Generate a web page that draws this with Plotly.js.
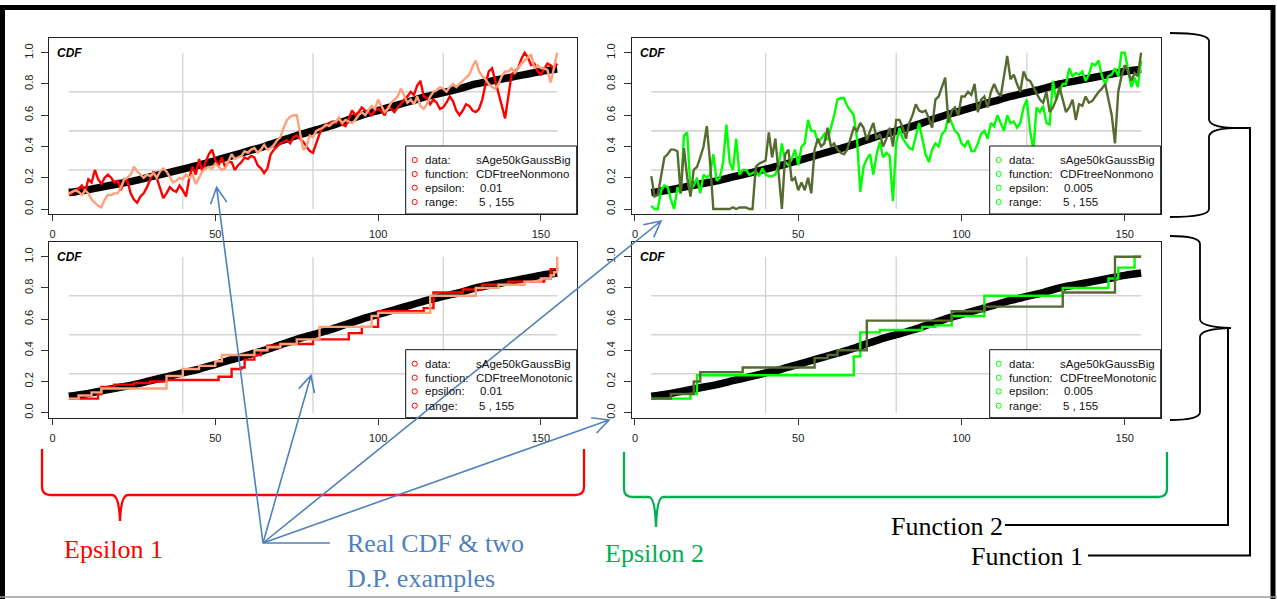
<!DOCTYPE html>
<html><head><meta charset="utf-8">
<script src="https://cdn.plot.ly/plotly-3.0.1.min.js"></script>
<style>html,body{margin:0;padding:0;background:#fff;overflow:hidden}#chart{width:1277px;height:599px}</style>
</head><body><div id="chart"></div>
<script>
// ---------------- DATA ----------------
const ages = [5,6,7,8,9,10,11,12,13,14,15,16,17,18,19,20,21,22,23,24,25,26,27,28,29,30,31,32,33,34,35,36,37,38,39,40,41,42,43,44,45,46,47,48,49,50,51,52,53,54,55,56,57,58,59,60,61,62,63,64,65,66,67,68,69,70,71,72,73,74,75,76,77,78,79,80,81,82,83,84,85,86,87,88,89,90,91,92,93,94,95,96,97,98,99,100,101,102,103,104,105,106,107,108,109,110,111,112,113,114,115,116,117,118,119,120,121,122,123,124,125,126,127,128,129,130,131,132,133,134,135,136,137,138,139,140,141,142,143,144,145,146,147,148,149,150,151,152,153,154,155];

const trueCdfX = [5,10,15,20,25,30,35,40,45,50,55,60,65,70,75,80,85,90,95,100,105,110,115,120,125,130,135,140,145,150,155];
const trueCdfY = [0.105,0.12,0.14,0.16,0.18,0.205,0.23,0.255,0.28,0.31,0.34,0.37,0.40,0.435,0.47,0.50,0.53,0.565,0.60,0.63,0.66,0.69,0.72,0.745,0.77,0.80,0.82,0.84,0.86,0.88,0.895];

// Panel 1: epsilon 0.01, CDFtreeNonmono
const p1Red = [0.09,0.10,0.12,0.13,0.15,0.11,0.19,0.17,0.25,0.19,
0.16,0.20,0.22,0.20,0.17,0.18,0.12,0.19,0.18,0.10,
0.06,0.04,0.08,0.10,0.14,0.19,0.24,0.20,0.13,0.07,
0.10,0.14,0.12,0.11,0.15,0.12,0.08,0.20,0.27,0.22,
0.32,0.24,0.30,0.35,0.38,0.31,0.28,0.33,0.27,0.30,
0.30,0.25,0.28,0.30,0.33,0.32,0.34,0.33,0.28,0.26,
0.23,0.26,0.35,0.38,0.40,0.42,0.43,0.44,0.42,0.46,
0.47,0.45,0.43,0.40,0.37,0.36,0.42,0.48,0.52,0.53,
0.55,0.56,0.55,0.58,0.54,0.53,0.58,0.63,0.60,0.62,
0.65,0.63,0.62,0.60,0.63,0.64,0.63,0.60,0.65,0.64,
0.62,0.65,0.67,0.70,0.72,0.75,0.73,0.79,0.82,0.72,
0.71,0.67,0.70,0.68,0.64,0.65,0.68,0.72,0.69,0.63,
0.60,0.63,0.67,0.66,0.63,0.62,0.64,0.70,0.80,0.88,
0.90,0.82,0.74,0.66,0.58,0.72,0.86,0.88,0.90,0.96,
1.00,0.97,0.92,0.93,0.88,0.86,0.90,0.93,0.92,0.90,0.93];
const p1Salmon = [0.10,0.11,0.12,0.11,0.09,0.12,0.10,0.06,0.04,0.02,
0.01,0.06,0.09,0.09,0.10,0.10,0.14,0.19,0.20,0.22,
0.27,0.24,0.22,0.20,0.22,0.21,0.23,0.20,0.24,0.26,
0.24,0.20,0.17,0.18,0.20,0.19,0.22,0.20,0.22,0.16,
0.20,0.24,0.26,0.27,0.26,0.29,0.27,0.25,0.26,0.30,
0.35,0.32,0.33,0.34,0.37,0.36,0.38,0.39,0.36,0.38,
0.41,0.38,0.39,0.41,0.44,0.46,0.52,0.57,0.59,0.60,
0.60,0.50,0.38,0.40,0.47,0.46,0.50,0.51,0.52,0.54,
0.53,0.55,0.56,0.58,0.55,0.57,0.56,0.55,0.57,0.60,
0.62,0.60,0.63,0.66,0.64,0.70,0.66,0.62,0.64,0.68,
0.70,0.72,0.77,0.72,0.68,0.70,0.67,0.72,0.66,0.64,
0.67,0.72,0.75,0.76,0.78,0.77,0.75,0.78,0.80,0.78,
0.80,0.82,0.84,0.86,0.91,0.95,0.88,0.85,0.83,0.80,
0.78,0.77,0.80,0.85,0.88,0.88,0.90,0.87,0.90,0.93,
0.95,0.97,0.99,0.90,0.92,0.90,0.90,0.89,0.81,0.90,1.00];

// Panel 2: epsilon 0.005, CDFtreeNonmono
const p2Olive = [0.21,0.08,0.09,0.20,0.33,0.35,0.38,0.38,0.37,0.10,
0.39,0.20,0.08,0.25,0.27,0.33,0.40,0.53,0.30,0.00,
0.00,0.00,0.00,0.00,0.00,0.01,0.00,0.01,0.01,0.01,
0.00,0.00,0.27,0.29,0.30,0.31,0.49,0.33,0.45,0.20,
0.00,0.35,0.38,0.18,0.20,0.12,0.17,0.12,0.20,0.10,
0.38,0.45,0.40,0.42,0.52,0.40,0.42,0.38,0.36,0.35,
0.38,0.45,0.52,0.50,0.55,0.52,0.44,0.50,0.55,0.45,
0.48,0.40,0.45,0.52,0.40,0.57,0.57,0.52,0.45,0.55,
0.60,0.67,0.63,0.62,0.63,0.58,0.52,0.70,0.72,0.78,
0.84,0.55,0.63,0.65,0.60,0.72,0.72,0.75,0.73,0.80,
0.62,0.70,0.72,0.65,0.75,0.80,0.75,0.72,0.85,0.98,
0.83,0.86,0.80,0.75,0.88,0.83,0.82,0.78,0.73,0.70,
0.68,0.75,0.62,0.65,0.70,0.78,0.70,0.62,0.65,0.70,
0.57,0.67,0.66,0.72,0.68,0.69,0.72,0.75,0.77,0.80,
0.70,0.60,0.42,0.75,0.85,0.92,0.88,0.82,0.87,0.85,1.00];
const p2Green = [0.02,0.00,0.00,0.12,0.15,0.14,0.06,0.00,0.14,0.10,
0.47,0.49,0.12,0.15,0.20,0.10,0.22,0.20,0.22,0.35,
0.18,0.20,0.30,0.54,0.30,0.25,0.45,0.22,0.25,0.25,
0.22,0.23,0.24,0.21,0.26,0.22,0.21,0.21,0.22,0.28,
0.42,0.30,0.28,0.32,0.38,0.28,0.40,0.42,0.57,0.50,
0.50,0.43,0.45,0.48,0.44,0.52,0.60,0.70,0.71,0.71,
0.66,0.63,0.60,0.45,0.11,0.27,0.32,0.35,0.22,0.35,
0.43,0.33,0.36,0.34,0.05,0.42,0.52,0.45,0.42,0.39,
0.38,0.46,0.55,0.45,0.35,0.30,0.38,0.42,0.40,0.48,
0.50,0.60,0.55,0.50,0.48,0.42,0.40,0.44,0.37,0.37,
0.42,0.48,0.50,0.45,0.55,0.53,0.60,0.55,0.50,0.60,
0.55,0.56,0.52,0.55,0.65,0.70,0.50,0.38,0.65,0.62,
0.66,0.55,0.54,0.82,0.70,0.75,0.80,0.80,0.90,0.85,
0.87,0.86,0.88,0.82,0.86,0.93,0.92,0.95,0.85,0.80,
0.85,0.86,0.90,0.85,1.00,1.00,0.88,0.78,0.84,0.78,0.95];

// Panel 3: epsilon 0.01, CDFtreeMonotonic (step functions)
const p3RedX = [5,14,15,19,25,30,35,51,55,58,59,62,64,66,70,80,91,95,100,114,117,126,132,140,151,153,155];
const p3RedY = [0.09,0.12,0.165,0.18,0.19,0.20,0.21,0.23,0.28,0.29,0.34,0.37,0.40,0.43,0.44,0.47,0.51,0.55,0.65,0.67,0.77,0.79,0.82,0.84,0.86,0.92,0.93];
const p3SalmonX = [5,8,12,15,35,40,45,50,52,62,66,70,75,82,98,100,116,130,137,145,150,153,154,155];
const p3SalmonY = [0.09,0.11,0.13,0.155,0.235,0.28,0.30,0.33,0.37,0.40,0.42,0.44,0.47,0.55,0.62,0.64,0.75,0.80,0.82,0.84,0.86,0.88,0.90,1.00];

// Panel 4: epsilon 0.005, CDFtreeMonotonic (step functions)
const p4GreenX = [5,17,19,67,69,75,88,92,97,107,131,145,148,153,155];
const p4GreenY = [0.09,0.12,0.24,0.36,0.515,0.53,0.55,0.56,0.62,0.75,0.80,0.86,0.93,1.00,1.00];
const p4OliveX = [5,11,18,20,33,55,59,62,71,97,107,131,147,155];
const p4OliveY = [0.09,0.12,0.20,0.26,0.29,0.35,0.37,0.40,0.59,0.65,0.68,0.77,1.00,1.00];

const xTickVals = [0,50,100,150];
const xTickText = ['0','50','100','150'];
const yTickVals = [0,0.2,0.4,0.6,0.8,1.0];
const yTickText = ['0.0','0.2','0.4','0.6','0.8','1.0'];
const gridXs = [40,80,120];
const gridYs = [0.25,0.5,0.75];

const legendLabels = ['data:','function:','epsilon:','range:'];
const legendValuesP1 = ['sAge50kGaussBig','CDFtreeNonmono','0.01','5 , 155'];
const legendValuesP2 = ['sAge50kGaussBig','CDFtreeNonmono','0.005','5 , 155'];
const legendValuesP3 = ['sAge50kGaussBig','CDFtreeMonotonic','0.01','5 , 155'];
const legendValuesP4 = ['sAge50kGaussBig','CDFtreeMonotonic','0.005','5 , 155'];
const panelTitle = 'CDF';

const groupLabels = ['Epsilon 1','Real CDF & two','D.P. examples','Epsilon 2','Function 2','Function 1'];

// ---------------- LAYOUT HELPERS ----------------
const W = 1277, H = 599;
const fx = p => p / W;
const fy = p => 1 - p / H;
const SANS = 'Liberation Sans, Arial, sans-serif';
const SERIF = 'Liberation Serif, Times New Roman, serif';
const RED = '#FF0000', SALMON = '#FFA07A', LIME = '#00FF00', OLIVE = '#556B2F';
const BLUE = '#4F81BD';

// panel boxes in pixels: [left, right, top, bottom]
const boxes = [
  [49.3, 576.7, 37.7, 214.0],
  [631.7, 1160.7, 37.7, 214.0],
  [49.3, 576.7, 241.7, 417.7],
  [631.7, 1160.7, 241.7, 417.7]
];
const X_RANGE = [-1, 161];
const Y_RANGE = [-0.032, 1.096];

const panelSeries = [
  [{x: ages, y: p1Red, c: RED, s: 'linear'}, {x: ages, y: p1Salmon, c: SALMON, s: 'linear'}],
  [{x: ages, y: p2Green, c: LIME, s: 'linear'}, {x: ages, y: p2Olive, c: OLIVE, s: 'linear'}],
  [{x: p3RedX, y: p3RedY, c: RED, s: 'hv'}, {x: p3SalmonX, y: p3SalmonY, c: SALMON, s: 'hv'}],
  [{x: p4GreenX, y: p4GreenY, c: LIME, s: 'hv'}, {x: p4OliveX, y: p4OliveY, c: OLIVE, s: 'hv'}]
];
const panelLegend = [
  {vals: legendValuesP1, c: RED},
  {vals: legendValuesP2, c: LIME},
  {vals: legendValuesP3, c: RED},
  {vals: legendValuesP4, c: LIME}
];

const traces = [];
const shapes = [];
const annotations = [];
const layout = {
  width: W, height: H,
  margin: {l: 0, r: 0, t: 0, b: 0, pad: 0},
  paper_bgcolor: '#ffffff', plot_bgcolor: '#ffffff',
  showlegend: false,
  font: {family: SANS, size: 11, color: '#222'}
};

boxes.forEach((b, i) => {
  const sfx = i === 0 ? '' : String(i + 1);
  const xa = 'x' + sfx, ya = 'y' + sfx;
  layout['xaxis' + sfx] = {
    domain: [fx(b[0]), fx(b[1])], range: X_RANGE, anchor: ya,
    tickmode: 'array', tickvals: xTickVals, ticktext: xTickText,
    ticks: 'outside', ticklen: 6, tickwidth: 1, tickcolor: '#333',
    showline: true, mirror: true, linecolor: '#222', linewidth: 1,
    showgrid: false, zeroline: false, fixedrange: true,
    tickfont: {family: SANS, size: 11, color: '#222'}, ticklabelstandoff: 4
  };
  layout['yaxis' + sfx] = {
    domain: [fy(b[3]), fy(b[2])], range: Y_RANGE, anchor: xa,
    tickmode: 'array', tickvals: yTickVals, ticktext: yTickText, tickangle: -90,
    ticks: 'outside', ticklen: 7, tickwidth: 1, tickcolor: '#333',
    showline: true, mirror: true, linecolor: '#222', linewidth: 1,
    showgrid: false, zeroline: false, fixedrange: true,
    tickfont: {family: SANS, size: 11, color: '#222'}, ticklabelstandoff: 4
  };
  // gridlines (segments within the data range)
  gridXs.forEach(g => shapes.push({type: 'line', xref: xa, yref: ya, x0: g, x1: g, y0: 0, y1: 1,
    line: {color: '#cfcfcf', width: 1.2}, layer: 'below'}));
  gridYs.forEach(g => shapes.push({type: 'line', xref: xa, yref: ya, x0: 5, x1: 155, y0: g, y1: g,
    line: {color: '#d4d4d4', width: 1.6}, layer: 'below'}));
  // true CDF
  traces.push({x: trueCdfX, y: trueCdfY, xaxis: xa, yaxis: ya, type: 'scatter', mode: 'lines',
    line: {color: '#000', width: 7.5, shape: 'spline'}, hoverinfo: 'skip'});
  panelSeries[i].forEach(s => traces.push({x: s.x, y: s.y, xaxis: xa, yaxis: ya, type: 'scatter', mode: 'lines',
    line: {color: s.c, width: 2.4, shape: s.s}, hoverinfo: 'skip'}));
  // CDF label
  annotations.push({xref: 'paper', yref: 'paper', x: fx(b[0] + 6), y: fy(b[2] + 15), xanchor: 'left', yanchor: 'middle',
    text: '<b><i>' + panelTitle + '</i></b>', showarrow: false, font: {family: SANS, size: 12, color: '#000'}});
  // legend box
  const L = b[1] - 171, T = b[3] - 68;
  shapes.push({type: 'rect', xref: 'paper', yref: 'paper', x0: fx(L), x1: fx(b[1]), y0: fy(b[3]), y1: fy(T),
    fillcolor: '#fff', line: {color: '#111', width: 1}, layer: 'above'});
  const rowY = [b[3] - 54, b[3] - 40, b[3] - 26.3, b[3] - 12];
  const valDx = [68, 68, 72.5, 71];
  const lg = panelLegend[i];
  legendLabels.forEach((lab, r) => {
    shapes.push({type: 'circle', xref: 'paper', yref: 'paper', xsizemode: 'pixel', ysizemode: 'pixel',
      xanchor: fx(L + 9), yanchor: fy(rowY[r]), x0: -2.6, x1: 2.6, y0: -2.6, y1: 2.6,
      line: {color: lg.c, width: 1}, fillcolor: 'rgba(0,0,0,0)', layer: 'above'});
    annotations.push({xref: 'paper', yref: 'paper', x: fx(L + 17.5), y: fy(rowY[r]), xanchor: 'left', yanchor: 'middle',
      text: lab, showarrow: false, font: {family: SANS, size: 11.5, color: '#111'}});
    annotations.push({xref: 'paper', yref: 'paper', x: fx(L + valDx[r]), y: fy(rowY[r]), xanchor: 'left', yanchor: 'middle',
      text: lg.vals[r], showarrow: false, font: {family: SANS, size: 11.5, color: '#111'}});
  });
});

// ---------------- DECORATIONS (pixel coordinates) ----------------
function pathFrom(cmds) {
  // cmds: array of [letter, x, y, ...] in pixels
  return cmds.map(c => c[0] + ' ' + c.slice(1).map((v, k) => k % 2 === 0 ? fx(v) : fy(v)).join(',')).join(' ');
}
function addPath(cmds, color, width) {
  shapes.push({type: 'path', xref: 'paper', yref: 'paper', path: pathFrom(cmds),
    line: {color: color, width: width}, fillcolor: 'rgba(0,0,0,0)', layer: 'above'});
}
// outer frame
addPath([['M', 2.5, 599], ['L', 2.5, 7.5], ['L', 1273, 7.5], ['L', 1273, 599]], '#000', 5);
addPath([['M', 0, 597], ['L', 1277, 597]], '#9a9a9a', 1.5);

// red brace (Epsilon 1)
addPath([['M', 42, 449], ['L', 42, 487], ['Q', 42, 495, 51, 495], ['L', 112, 495],
  ['Q', 119, 495, 120, 521], ['Q', 121, 495, 128, 495], ['L', 575, 495], ['Q', 584, 495, 584, 487], ['L', 584, 449]], RED, 2.3);
// green brace (Epsilon 2)
addPath([['M', 624, 452], ['L', 624, 489], ['Q', 624, 497, 633, 497], ['L', 649, 497],
  ['Q', 655, 497, 656, 527], ['Q', 657, 497, 663, 497], ['L', 1158, 497], ['Q', 1167, 497, 1167, 489], ['L', 1167, 452]], '#00B050', 2.3);
// black braces (functions)
addPath([['M', 1170, 33], ['Q', 1209, 33, 1209, 41], ['L', 1209, 119], ['Q', 1209, 127, 1233, 128],
  ['Q', 1209, 129, 1209, 137], ['L', 1209, 209], ['Q', 1209, 217, 1170, 217]], '#000', 1.8);
addPath([['M', 1170, 236], ['Q', 1200, 236, 1200, 244], ['L', 1200, 319], ['Q', 1200, 327, 1231, 328],
  ['Q', 1200, 329, 1200, 337], ['L', 1200, 412], ['Q', 1200, 420, 1170, 420]], '#000', 1.8);
addPath([['M', 1228, 328], ['L', 1228, 525], ['L', 1005, 525]], '#000', 2);
addPath([['M', 1233, 128], ['L', 1250, 128], ['L', 1250, 555.5], ['L', 1088, 555.5]], '#000', 2);

// blue arrows from a common origin
const arrowTail = [263, 543];
const arrowTips = [[216.6, 187.3], [311, 375.5], [661, 221], [609, 420]];
arrowTips.forEach(t => {
  const dx = t[0] - arrowTail[0], dy = t[1] - arrowTail[1];
  const len = Math.hypot(dx, dy), ux = dx / len, uy = dy / len;
  const hl = 18, a = 27 * Math.PI / 180;
  const leg = s => [t[0] - hl * (ux * Math.cos(a) - s * uy * Math.sin(a)), t[1] - hl * (uy * Math.cos(a) + s * ux * Math.sin(a))];
  const l1 = leg(1), l2 = leg(-1);
  addPath([['M', arrowTail[0], arrowTail[1]], ['L', t[0], t[1]], ['M', l1[0], l1[1]], ['L', t[0], t[1]], ['L', l2[0], l2[1]]], BLUE, 1.6);
});
addPath([['M', 263, 543], ['L', 330, 543]], BLUE, 1.6);

// big text labels
const labelPos = [[62, 549, RED], [345, 543, BLUE], [345, 578, BLUE], [603, 553, '#00B050'], [889, 526, '#000'], [969, 556, '#000']];
groupLabels.forEach((t, k) => annotations.push({xref: 'paper', yref: 'paper', x: fx(labelPos[k][0]), y: fy(labelPos[k][1]),
  xanchor: 'left', yanchor: 'middle', text: t, showarrow: false, font: {family: SERIF, size: 26, color: labelPos[k][2]}}));

layout.shapes = shapes;
layout.annotations = annotations;
Plotly.newPlot('chart', traces, layout, {staticPlot: true, displayModeBar: false});
</script>
</body></html>
